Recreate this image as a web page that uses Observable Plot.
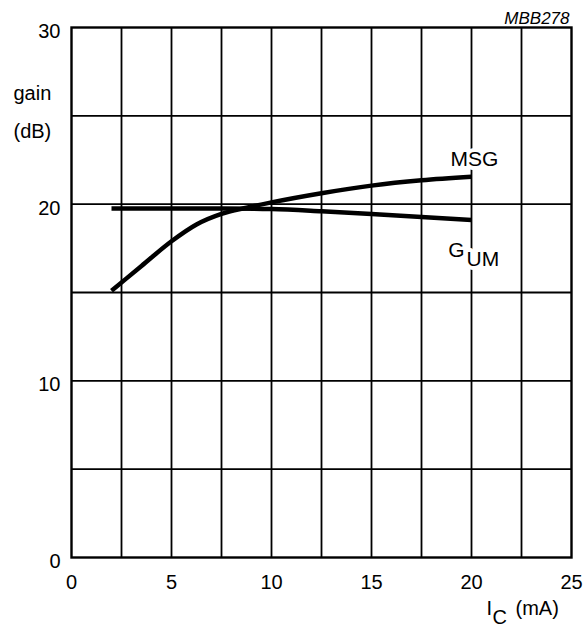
<!DOCTYPE html>
<html>
<head>
<meta charset="utf-8">
<script src="https://cdn.jsdelivr.net/npm/d3@7"></script>
<script src="https://cdn.jsdelivr.net/npm/@observablehq/plot@0.6"></script>
<style>
  html, body { margin: 0; padding: 0; background: white; }
</style>
</head>
<body>
<div id="chart"></div>
<script>
// Collector current I_C (mA)
const msgX = [2, 3.5, 5, 6.25, 7.5, 8.75, 10, 12.5, 15, 17.5, 20];
const msgY = [15.1, 16.5, 17.9, 18.85, 19.45, 19.8, 20.1, 20.62, 21.05, 21.35, 21.55];
const gumX = [2, 5, 7.5, 10, 12.5, 15, 17.5, 20];
const gumY = [19.75, 19.75, 19.75, 19.72, 19.6, 19.45, 19.28, 19.1];

const xTicks = [0, 5, 10, 15, 20, 25];
const yTicks = [0, 10, 20, 30];
const xGrid = [2.5, 5, 7.5, 10, 12.5, 15, 17.5, 20, 22.5];
const yGrid = [5, 10, 15, 20, 25];

const msg = msgX.map((x, i) => ({ic: x, gain: msgY[i]}));
const gum = gumX.map((x, i) => ({ic: x, gain: gumY[i]}));
const msgEnd = [msg[msg.length - 1]];
const gumEnd = [gum[gum.length - 1]];

const font = "'Liberation Sans', Arial, Helvetica, sans-serif";

const chart = Plot.plot({
  width: 584,
  height: 626,
  marginLeft: 71,
  marginRight: 13,
  marginTop: 27,
  marginBottom: 69,
  x: {domain: [0, 25], label: null},
  y: {domain: [0, 30], label: null},
  style: {fontFamily: font, fontSize: "20px", color: "black", background: "white"},
  marks: [
    Plot.gridX(xGrid, {stroke: "black", strokeOpacity: 1, strokeWidth: 1.8}),
    Plot.gridY(yGrid, {stroke: "black", strokeOpacity: 1, strokeWidth: 1.8}),
    Plot.frame({stroke: "black", strokeWidth: 2.4}),
    Plot.axisX(xTicks, {tickSize: 0, tickPadding: 17, fontSize: 20, label: null}),
    Plot.axisY(yTicks, {tickSize: 0, tickPadding: 11, dy: 4, fontSize: 20, label: null}),
    Plot.line(gum, {x: "ic", y: "gain", stroke: "black", strokeWidth: 4.5, curve: "monotone-x", strokeLinecap: "butt"}),
    Plot.line(msg, {x: "ic", y: "gain", stroke: "black", strokeWidth: 4.5, curve: "monotone-x", strokeLinecap: "butt"}),
    Plot.text(msgEnd, {x: "ic", y: "gain", text: () => "MSG", textAnchor: "middle", lineAnchor: "bottom", dx: 3, dy: -11, fontSize: 21, fill: "black", stroke: "white", strokeWidth: 8}),
    Plot.text(gumEnd, {x: "ic", y: "gain", text: () => "G", textAnchor: "end", lineAnchor: "bottom", dx: -7, dy: 37, fontSize: 21, fill: "black", stroke: "white", strokeWidth: 8}),
    Plot.text(gumEnd, {x: "ic", y: "gain", text: () => "UM", textAnchor: "start", lineAnchor: "bottom", dx: -5, dy: 46, fontSize: 21, fill: "black", stroke: "white", strokeWidth: 8}),
    Plot.text(["gain\n(dB)"], {frameAnchor: "top-left", text: d => d, textAnchor: "start", lineAnchor: "bottom", dx: -58, dy: 110, lineHeight: 1.9, fontSize: 20}),
    Plot.text(["MBB278"], {frameAnchor: "top-right", text: d => d, textAnchor: "end", lineAnchor: "bottom", dx: -2, dy: -4, fontSize: 17, fontStyle: "italic"}),
    Plot.text(["I"], {frameAnchor: "bottom-right", text: d => d, textAnchor: "start", lineAnchor: "bottom", dx: -85, dy: 57, fontSize: 20}),
    Plot.text(["C"], {frameAnchor: "bottom-right", text: d => d, textAnchor: "start", lineAnchor: "bottom", dx: -79, dy: 66, fontSize: 20}),
    Plot.text(["(mA)"], {frameAnchor: "bottom-right", text: d => d, textAnchor: "start", lineAnchor: "bottom", dx: -56, dy: 57, fontSize: 20})
  ]
});
document.getElementById("chart").appendChild(chart);
</script>
</body>
</html>
